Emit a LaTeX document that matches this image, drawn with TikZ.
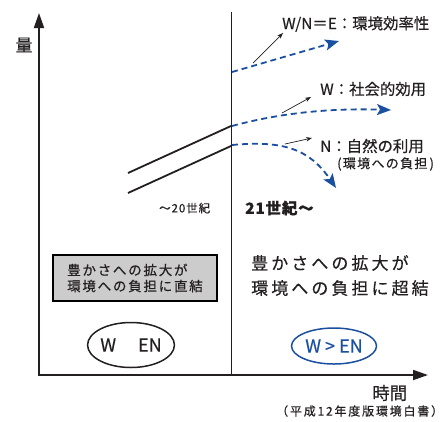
\documentclass[tikz,border=0pt]{standalone}
\usepackage{fontspec}
\setmainfont{Noto Sans CJK JP}[FakeBold=0.5]
\usetikzlibrary{arrows.meta,shapes.geometric}
\definecolor{bl}{HTML}{1B4FA0}
\definecolor{tx}{HTML}{231F20}
\begin{document}
\begin{tikzpicture}[x=1pt,y=-1pt,
  axis/.style={tx,line width=1.8pt,{Triangle[length=15pt,width=10pt]}-{Triangle[length=15pt,width=10pt]}},
  bdash/.style={bl,line width=1.8pt,dash pattern=on 6pt off 4pt,-{Stealth[length=14pt,width=11pt,inset=3pt]}},
  thinarr/.style={tx,line width=0.7pt,-{Stealth[length=6pt,width=4.5pt]}},
  slant/.style={tx,line width=1.8pt},
  lab/.style={anchor=west,inner sep=0pt,text=tx,font=\fontsize{15.4}{17}\selectfont},
  small/.style={anchor=west,inner sep=0pt,text=tx,font=\fontsize{11}{13}\selectfont},
  oval/.style={ellipse,draw,line width=1.5pt,inner sep=0pt,font=\fontsize{18}{20}\selectfont}]
\useasboundingbox (0,0) rectangle (443,421);
% axes
\coordinate (ytop) at (39,13);
\coordinate (O) at (39,375);
\coordinate (xend) at (428,375);
\draw[axis] (ytop) -- (O) -- (xend);
\node[text=tx,font=\fontsize{17}{19}\selectfont] (ylab) at (24,45) {量};
\node[text=tx,font=\fontsize{17.5}{19}\selectfont,anchor=west,inner sep=0pt] (xlab) at (372,393) {時間};
\node[small,font=\fontsize{12}{13}\selectfont\addfontfeature{LetterSpace=15}] (src) at (276,411) {（平成12年度版環境白書）};
% divider
\coordinate (dtop) at (231,12);
\coordinate (dbot) at (231,375);
\draw[tx,line width=0.8pt] (dtop) -- (dbot);
% 20th century lines
\coordinate (a1) at (128,173); \coordinate (a2) at (231,126);
\coordinate (b1) at (128,193); \coordinate (b2) at (231,146);
\draw[slant] (a1) -- (a2);
\draw[slant] (b1) -- (b2);
% blue dashed trends
\coordinate (c1s) at (232,72); \coordinate (c1e) at (339,41);
\coordinate (c2s) at (232,126); \coordinate (c2e) at (391,110);
\coordinate (c3s) at (232,145); \coordinate (c3e) at (336,188);
\draw[bdash] (c1s) -- (c1e);
\draw[bdash] (c2s) .. controls (280,113) and (330,108) .. (c2e);
\draw[bdash] (c3s) .. controls (285,140) and (310,150) .. (c3e);
% labels
\node[lab] (lE) at (282,24) {W/N＝E：環境効率性};
\node[lab] (lW) at (320,89) {W：社会的効用};
\node[lab] (lN) at (320,146) {N：自然の利用};
\node[small,font=\fontsize{13}{14}\selectfont\addfontfeature{LetterSpace=10}] (lN2) at (337,164) {(環境への負担\,)};
\coordinate (p1) at (253,63); \coordinate (q1) at (283,33);
\coordinate (p2) at (282,113); \coordinate (q2) at (311,97);
\coordinate (p3) at (285,144); \coordinate (q3) at (312,138);
\draw[thinarr] (p1) -- (q1);
\draw[thinarr] (p2) -- (q2);
\draw[thinarr] (p3) -- (q3);
% centuries
\node[small,font=\fontsize{11.5}{12}\selectfont\addfontfeature{LetterSpace=8}] (c20) at (159,208) {～20世紀};
\node[lab,font=\bfseries\fontsize{15.5}{17}\selectfont\addfontfeature{LetterSpace=5}] (c21) at (245,208) {21世紀～};
% boxes
\node[draw,line width=1.8pt,fill=black!20,minimum width=164pt,minimum height=46pt,inner sep=0pt,
  align=left,text=tx,font=\fontsize{13.5}{16}\selectfont\addfontfeature{LetterSpace=13}] (box) at (135,278)
  {豊かさへの拡大が\\環境への負担に直結};
\node[anchor=west,inner sep=0pt,align=left,text=tx,font=\fontsize{17}{25}\selectfont\addfontfeature{LetterSpace=18}] (big) at (251,275.5)
  {豊かさへの拡大が\\環境への負担に超結};
\node[oval,tx,minimum width=85pt,minimum height=45pt] (e1) at (131,345) {W\hspace{22pt}EN};
\node[oval,bl,minimum width=85pt,minimum height=36pt] (e2) at (334,346) {W > EN};
\end{tikzpicture}
\end{document}
